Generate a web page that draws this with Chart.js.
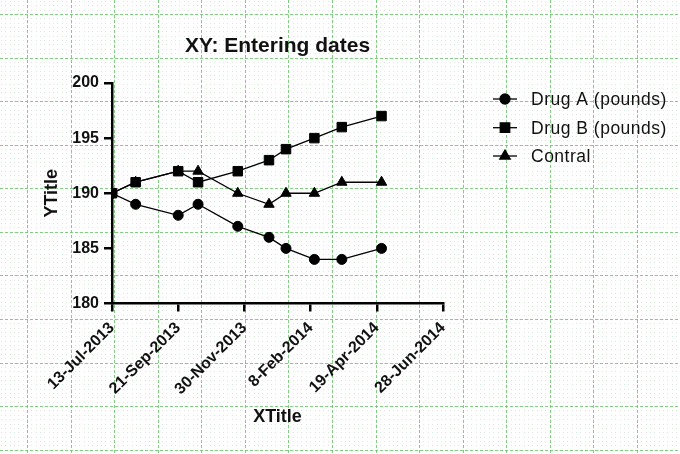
<!DOCTYPE html>
<html>
<head>
<meta charset="utf-8">
<script src="https://cdn.jsdelivr.net/npm/chart.js@4.4.1/dist/chart.umd.min.js"></script>
<style>
  html, body { margin: 0; padding: 0; background: #fff; }
  #wrap { width: 680px; height: 454px; position: relative; }
</style>
</head>
<body>
<div id="wrap"><canvas id="c" width="680" height="454"></canvas></div>
<script>
// ---------- data ----------
const startDate = '2013-07-13';
const dates = ['2013-07-13', '2013-08-07', '2013-09-21', '2013-10-12', '2013-11-23',
               '2013-12-26', '2014-01-13', '2014-02-12', '2014-03-13', '2014-04-24'];
const drugA = [190, 189, 188, 189, 187, 186, 185, 184, 184, 185];
const drugB = [190, 191, 192, 191, 192, 193, 194, 195, 196, 197];
const contral = [190, 191, 192, 192, 190, 189, 190, 190, 191, 191];
const seriesNames = ['Drug A (pounds)', 'Drug B (pounds)', 'Contral'];
const xTickLabels = ['13-Jul-2013', '21-Sep-2013', '30-Nov-2013', '8-Feb-2014', '19-Apr-2014', '28-Jun-2014'];
const xTickStepDays = 70;
const yTicks = [180, 185, 190, 195, 200];

const DAY = 86400000;
const t0 = Date.parse(startDate);
const dayOf = d => Math.round((Date.parse(d) - t0) / DAY);
const toPts = vals => vals.map((v, i) => ({ x: dayOf(dates[i]), y: v }));

// ---------- background graph paper ----------
const paperPlugin = {
  id: 'paper',
  beforeDraw(chart) {
    const ctx = chart.ctx, W = chart.width, H = chart.height;
    const S = 43.57, ox = 27, oy = 14, m = S / 10;
    ctx.save();
    ctx.fillStyle = '#ffffff';
    ctx.fillRect(0, 0, W, H);
    // minor dotted lattice
    let ix = 0;
    for (let x = ox % m; x < W; x += m, ix++) {
      let iy = 0;
      for (let y = oy % m; y < H; y += m, iy++) {
        const greenish = ((ix + iy) % 3 === 0);
        ctx.fillStyle = greenish ? 'rgba(120,200,120,0.35)' : 'rgba(160,170,160,0.28)';
        ctx.fillRect(Math.round(x), Math.round(y), 1, 1);
      }
    }
    // major dashed lines
    ctx.strokeStyle = 'rgba(100,195,100,0.8)';
    ctx.lineWidth = 1;
    ctx.setLineDash([3, 2]);
    for (let x = ox % S; x < W; x += S) {
      ctx.beginPath(); ctx.moveTo(Math.round(x) + 0.5, 0); ctx.lineTo(Math.round(x) + 0.5, H); ctx.stroke();
    }
    for (let y = oy % S; y < H; y += S) {
      ctx.beginPath(); ctx.moveTo(0, Math.round(y) + 0.5); ctx.lineTo(W, Math.round(y) + 0.5); ctx.stroke();
    }
    ctx.restore();
  }
};

// ---------- custom legend (line + marker + text) ----------
const legendPlugin = {
  id: 'lineLegend',
  afterDraw(chart) {
    const ctx = chart.ctx;
    const x0 = 493, x1 = 517, xm = 505, xt = 531;
    const ys = [99, 127.7, 156];
    ctx.save();
    chart.data.datasets.forEach((ds, i) => {
      const y = ys[i];
      ctx.strokeStyle = '#000';
      ctx.lineWidth = 1.3;
      ctx.setLineDash([]);
      ctx.beginPath(); ctx.moveTo(x0, y); ctx.lineTo(x1, y); ctx.stroke();
      ctx.fillStyle = '#000';
      Chart.helpers.drawPoint(ctx, {
        pointStyle: ds.pointStyle, radius: ds.pointRadius, borderWidth: 1, rotation: 0
      }, xm, y);
      ctx.fillStyle = '#111';
      ctx.font = '17.5px "Liberation Sans", Arial, sans-serif';
      try { ctx.letterSpacing = '0.5px'; } catch (e) {}
      ctx.textAlign = 'left';
      ctx.textBaseline = 'middle';
      ctx.fillText(ds.label, xt, y + 1);
      try { ctx.letterSpacing = '0px'; } catch (e) {}
    });
    ctx.restore();
  }
};

const common = {
  borderColor: '#000', backgroundColor: '#000', borderWidth: 1.3,
  pointBorderColor: '#000', pointBackgroundColor: '#000', pointBorderWidth: 1,
  fill: false, tension: 0
};

new Chart(document.getElementById('c'), {
  type: 'line',
  data: {
    datasets: [
      Object.assign({ label: seriesNames[0], data: toPts(drugA), pointStyle: 'circle', pointRadius: 5, order: 1 }, common),
      Object.assign({ label: seriesNames[1], data: toPts(drugB), pointStyle: 'rect', pointRadius: 6.7, order: 0 }, common),
      Object.assign({ label: seriesNames[2], data: toPts(contral), pointStyle: 'triangle', pointRadius: 6, order: 2 }, common)
    ]
  },
  options: {
    responsive: false,
    animation: false,
    devicePixelRatio: 1,
    layout: { padding: { left: 0, right: 237, top: 0, bottom: 0 } },
    plugins: {
      legend: { display: false },
      tooltip: { enabled: false },
      title: {
        display: true, fullSize: false,
        text: 'XY: Entering dates',
        color: '#111',
        font: { family: '"Liberation Sans", Arial, sans-serif', size: 21, weight: 'bold', lineHeight: 1.2 },
        padding: { top: 33.4, bottom: 24.4 }
      }
    },
    scales: {
      x: {
        type: 'linear',
        min: 0, max: xTickStepDays * (xTickLabels.length - 1),
        afterBuildTicks(scale) {
          scale.ticks = xTickLabels.map((l, i) => ({ value: i * xTickStepDays }));
        },
        afterFit(scale) { scale.height = 150.5; },
        ticks: {
          autoSkip: false, maxRotation: 45, minRotation: 45,
          color: '#111', padding: 7,
          font: { family: '"Liberation Sans", Arial, sans-serif', size: 16, weight: 'bold' },
          callback: (v) => xTickLabels[Math.round(v / xTickStepDays)]
        },
        grid: { drawOnChartArea: false, drawTicks: true, tickLength: 8, color: '#000', lineWidth: 2.5 },
        border: { display: true, color: '#000', width: 2.5 },
        title: {
          display: true, text: 'XTitle', color: '#111',
          font: { family: '"Liberation Sans", Arial, sans-serif', size: 18, weight: 'bold', lineHeight: 1.2 },
          padding: { top: 0, bottom: 26.5 }
        }
      },
      y: {
        type: 'linear',
        min: yTicks[0], max: yTicks[yTicks.length - 1],
        afterBuildTicks(scale) { scale.ticks = yTicks.map(v => ({ value: v })); },
        afterFit(scale) { scale.width = 112; },
        ticks: {
          color: '#111', padding: 5,
          font: { family: '"Liberation Sans", Arial, sans-serif', size: 16, weight: 'bold' }
        },
        grid: { drawOnChartArea: false, drawTicks: true, tickLength: 8, color: '#000', lineWidth: 2.5 },
        border: { display: true, color: '#000', width: 2.5 },
        title: {
          display: true, text: 'YTitle', color: '#111',
          font: { family: '"Liberation Sans", Arial, sans-serif', size: 18, weight: 'bold', lineHeight: 1.2 },
          padding: { top: 41, bottom: 0 }
        }
      }
    }
  },
  plugins: [paperPlugin, legendPlugin]
});
</script>
</body>
</html>
